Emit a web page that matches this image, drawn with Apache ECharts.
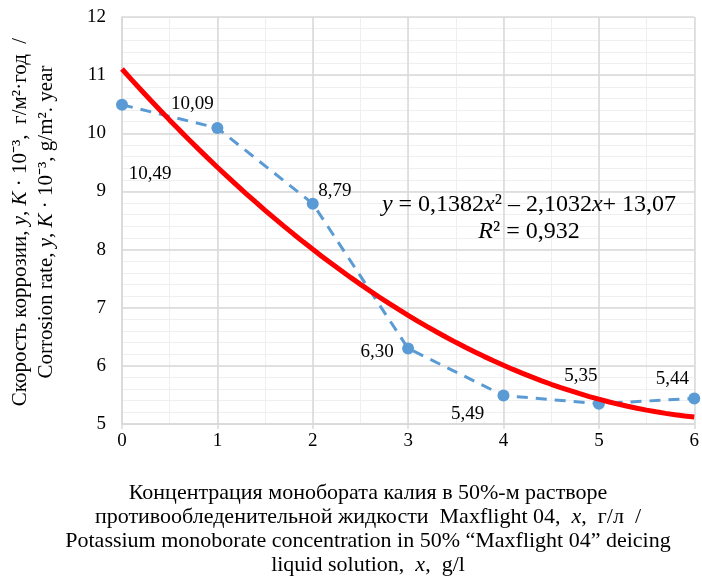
<!DOCTYPE html>
<html>
<head>
<meta charset="utf-8">
<script src="https://cdn.jsdelivr.net/npm/echarts@6/dist/echarts.min.js"></script>
<style>
html,body{margin:0;padding:0;background:#fff;}
#chart{width:702px;height:578px;}
</style>
</head>
<body>
<div id="chart"></div>
<script>
// ---- data ----
var xValues = [0, 1, 2, 3, 4, 5, 6];
var corrosion = [10.49, 10.09, 8.79, 6.30, 5.49, 5.35, 5.44];
var labelOffsets = [[28, 69], [-25, -24], [22, -13], [-31, 4], [-36, 19], [-18, -28], [-22, -19]];
var xTicks = ['0', '1', '2', '3', '4', '5', '6'];
var yTicks = ['5', '6', '7', '8', '9', '10', '11', '12'];
var eqLine1 = '{i|y} = 0,1382{i|x}² – 2,1032{i|x}+ 13,07';
var eqLine2 = '{i|R}² = 0,932';
var yTitle1 = 'Скорость коррозии, {i|y}, {i|K} · 10⁻³,  г/м²·год  /';
var yTitle2 = 'Corrosion rate, {i|y}, {i|K} · 10⁻³, g/m². year';
var xTitle = [
  'Концентрация монобората калия в 50%-м растворе',
  'противообледенительной жидкости  Maxflight 04,  {i|x},  г/л  /',
  'Potassium monoborate concentration in 50% “Maxflight 04” deicing',
  'liquid solution,  {i|x},  g/l'
];

// quadratic least-squares trend from the data
function quadFit(xs, ys) {
  var n = xs.length, S = [0,0,0,0,0], T = [0,0,0];
  for (var i = 0; i < n; i++) {
    var p = 1;
    for (var k = 0; k < 5; k++) { S[k] += p; if (k < 3) T[k] += p * ys[i]; p *= xs[i]; }
  }
  var M = [[S[0],S[1],S[2],T[0]],[S[1],S[2],S[3],T[1]],[S[2],S[3],S[4],T[2]]];
  for (var c = 0; c < 3; c++) {
    for (var r = c + 1; r < 3; r++) {
      var f = M[r][c] / M[c][c];
      for (var j = c; j < 4; j++) M[r][j] -= f * M[c][j];
    }
  }
  var sol = [0,0,0];
  for (var r2 = 2; r2 >= 0; r2--) {
    var s = M[r2][3];
    for (var j2 = r2 + 1; j2 < 3; j2++) s -= M[r2][j2] * sol[j2];
    sol[r2] = s / M[r2][r2];
  }
  return sol; // c0, c1, c2
}
var coef = quadFit(xValues, corrosion);
var trend = [];
for (var t = 0; t <= 60; t++) {
  var xv = t / 10;
  trend.push([xv, coef[0] + coef[1] * xv + coef[2] * xv * xv]);
}

var font = '"Liberation Serif", "Times New Roman", serif';
function richWith(size) {
  return {i: {fontStyle: 'italic', fontFamily: font, fontSize: size, color: '#000'}};
}

var chart = echarts.init(document.getElementById('chart'));
chart.setOption({
  backgroundColor: '#fff',
  animation: false,
  grid: {left: 122, right: 3, top: 17, bottom: 154, containLabel: false},
  xAxis: [{
    type: 'value', min: 0, max: 6, interval: 1, z: 1,
    axisLine: {show: true, lineStyle: {color: '#d9d9d9', width: 1.5}},
    axisTick: {show: true, length: 5, lineStyle: {color: '#d9d9d9', width: 1.5}},
    axisLabel: {fontFamily: font, fontSize: 19, color: '#000', margin: 8,
      formatter: function (v) { return xTicks[Math.round(v)]; }},
    splitLine: {show: true, lineStyle: {color: '#d9d9d9', width: 1.5}}
  }, {
    type: 'value', min: 0, max: 6, interval: 0.5, z: 0, position: 'bottom',
    axisLine: {show: false}, axisTick: {show: false}, axisLabel: {show: false},
    splitLine: {show: true, lineStyle: {color: '#efefef', width: 1}}
  }],
  yAxis: [{
    type: 'value', min: 5, max: 12, interval: 1, z: 1,
    axisLine: {show: true, lineStyle: {color: '#d9d9d9', width: 1.5}},
    axisTick: {show: false},
    axisLabel: {fontFamily: font, fontSize: 19, color: '#000', margin: 16,
      formatter: function (v) { return yTicks[Math.round(v - 5)]; }},
    splitLine: {show: true, lineStyle: {color: '#d9d9d9', width: 1.5}}
  }, {
    type: 'value', min: 5, max: 12, interval: 0.2, z: 0, position: 'left',
    axisLine: {show: false}, axisTick: {show: false}, axisLabel: {show: false},
    splitLine: {show: true, lineStyle: {color: '#efefef', width: 1}}
  }],
  series: [
    {
      type: 'line',
      data: xValues.map(function (x, i) {
        return {
          value: [x, corrosion[i]],
          label: {offset: labelOffsets[i]}
        };
      }),
      symbol: 'circle', symbolSize: 12,
      itemStyle: {color: '#5b9bd5'},
      lineStyle: {color: '#5b9bd5', width: 3, type: [11, 8]},
      label: {
        show: true, position: 'inside', fontFamily: font, fontSize: 19, color: '#000',
        formatter: function (p) { return p.value[1].toFixed(2).replace('.', ','); }
      },
      z: 3
    },
    {
      type: 'line',
      data: trend,
      showSymbol: false, symbol: 'none',
      smooth: false,
      lineStyle: {color: '#ff0000', width: 5},
      z: 4
    }
  ],
  graphic: [
    {
      type: 'text', x: 529, y: 218, z: 10,
      style: {
        text: eqLine1 + '\n' + eqLine2,
        fontFamily: font, fontSize: 24, fill: '#000',
        align: 'center', verticalAlign: 'middle', lineHeight: 27,
        rich: richWith(24)
      }
    },
    {
      type: 'text', x: 33, y: 222, rotation: Math.PI / 2, z: 10,
      style: {
        text: yTitle1 + '\n' + yTitle2,
        fontFamily: font, fontSize: 21, fill: '#000',
        align: 'center', verticalAlign: 'middle', lineHeight: 26,
        rich: richWith(21)
      }
    },
    {
      type: 'text', x: 368, y: 529, z: 10,
      style: {
        text: xTitle.join('\n'),
        fontFamily: font, fontSize: 22, fill: '#000',
        align: 'center', verticalAlign: 'middle', lineHeight: 24,
        rich: richWith(22)
      }
    }
  ]
});
</script>
</body>
</html>
